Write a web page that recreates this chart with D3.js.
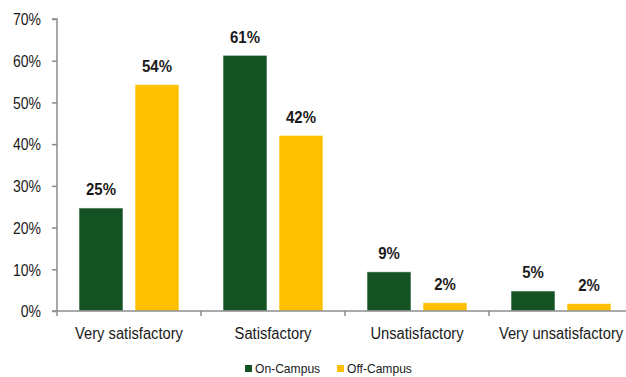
<!DOCTYPE html>
<html>
<head>
<meta charset="utf-8">
<script src="https://cdn.jsdelivr.net/npm/d3@7"></script>
<style>
  html, body { margin: 0; padding: 0; background: #fff; }
  svg { display: block; }
  text { font-family: "Liberation Sans", Arial, sans-serif; fill: #1a1a1a; }
</style>
</head>
<body>
<svg id="chart" width="626" height="377"></svg>
<script>
// Satisfaction ratings by residence
const categories = ["Very satisfactory", "Satisfactory", "Unsatisfactory", "Very unsatisfactory"];
const seriesNames = ["On-Campus", "Off-Campus"];
const onCampus = [0.247, 0.613, 0.094, 0.048];
const offCampus = [0.543, 0.421, 0.020, 0.018];
const yTicks = [0, 0.1, 0.2, 0.3, 0.4, 0.5, 0.6, 0.7];
const colors = ["#145224", "#FFC000"];

const svg = d3.select("#chart");
const W = 626;
const plotLeft = 57, plotTop = 19, plotBottom = 311;
const bandWidth = 144;

const x = d3.scaleBand()
  .domain(categories)
  .range([plotLeft, plotLeft + bandWidth * categories.length])
  .paddingInner(0).paddingOuter(0);

const xInner = d3.scaleBand()
  .domain(seriesNames)
  .range([0, x.bandwidth()])
  .paddingInner(12 / 56)
  .paddingOuter(22 / 56);

const y = d3.scaleLinear().domain([0, 0.7]).range([plotBottom, plotTop]);

const pct = d3.format(".0%");
const axisColor = "#8c8c8c";

// narrow text: Liberation Sans squeezed horizontally
function narrow(sel, tx, ty, sx) {
  sel.attr("x", 0).attr("y", 0)
    .attr("transform", (d, i, n) => {
      const X = typeof tx === "function" ? tx(d, i, n) : tx;
      const Y = typeof ty === "function" ? ty(d, i, n) : ty;
      return `translate(${X},${Y}) scale(${sx},1)`;
    });
}

// y axis
const yAxis = svg.append("g")
  .attr("transform", `translate(${plotLeft},0)`)
  .call(d3.axisLeft(y).tickValues(yTicks).tickFormat(pct).tickSize(5).tickPadding(11));
yAxis.select(".domain").attr("stroke", axisColor).attr("stroke-width", 1.5)
  .attr("d", `M-5,${plotTop}H0V${plotBottom}`);
yAxis.selectAll(".tick line").attr("stroke", axisColor).attr("stroke-width", 1.5);
yAxis.selectAll(".tick text")
  .style("font-size", "16px").attr("fill", "#1a1a1a").attr("dy", "0.36em")
  .call(narrow, -16, 0, 0.875);

// bars
const data = categories.map((c, i) => ({ cat: c, values: [onCampus[i], offCampus[i]] }));
const groups = svg.append("g").selectAll("g")
  .data(data).join("g")
  .attr("transform", d => `translate(${x(d.cat)},0)`);

const cells = d => d.values.map((v, j) => ({ name: seriesNames[j], v, j }));

groups.selectAll("rect")
  .data(cells)
  .join("rect")
  .attr("x", d => xInner(d.name))
  .attr("width", xInner.bandwidth())
  .attr("y", d => y(d.v))
  .attr("height", d => plotBottom - y(d.v))
  .attr("fill", d => colors[d.j])
  .attr("stroke", "#ffffff")
  .attr("stroke-opacity", 0.6)
  .attr("stroke-width", 1);

groups.selectAll("text.val")
  .data(cells)
  .join("text")
  .attr("class", "val")
  .attr("text-anchor", "middle")
  .style("font-size", "17px")
  .style("font-weight", "bold")
  .text(d => pct(d.v))
  .call(narrow, d => xInner(d.name) + xInner.bandwidth() / 2, d => y(d.v) - 12.5, 0.88);

// x axis
const xAxisG = svg.append("g").attr("transform", `translate(0,${plotBottom})`);
xAxisG.append("line")
  .attr("x1", plotLeft - 5).attr("x2", W)
  .attr("stroke", axisColor).attr("stroke-width", 1.5);
xAxisG.selectAll("line.tk")
  .data(d3.range(categories.length + 1))
  .join("line")
  .attr("class", "tk")
  .attr("x1", i => plotLeft + i * bandWidth)
  .attr("x2", i => plotLeft + i * bandWidth)
  .attr("y1", 0).attr("y2", 5)
  .attr("stroke", axisColor).attr("stroke-width", 1.5);
xAxisG.selectAll("text")
  .data(categories).join("text")
  .attr("text-anchor", "middle")
  .style("font-size", "16px")
  .text(d => d)
  .call(narrow, d => x(d) + x.bandwidth() / 2, 27.7, 0.92);

// legend
const legend = svg.append("g").attr("transform", "translate(245,373)");
const legendX = [0, 92];
seriesNames.forEach((name, j) => {
  const g = legend.append("g").attr("transform", `translate(${legendX[j]},0)`);
  g.append("rect").attr("x", 0).attr("y", -8).attr("width", 7).attr("height", 7).attr("fill", colors[j]);
  g.append("text").style("font-size", "13px").text(name)
    .call(narrow, 10, 0, 0.93);
});
</script>
</body>
</html>
